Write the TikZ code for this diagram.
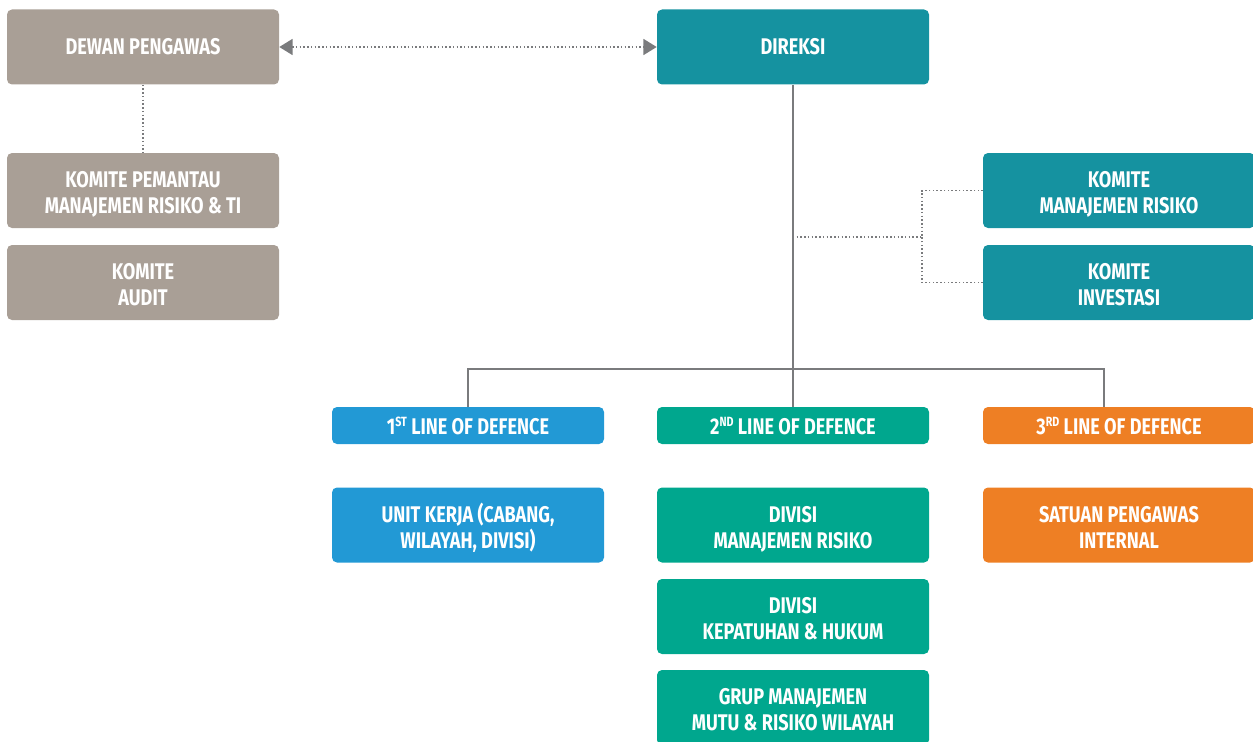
\documentclass[tikz,border=0pt]{standalone}
\usepackage{fontspec}
\setmainfont{Fira Sans}[FakeStretch=0.8]
\usetikzlibrary{arrows.meta}
\definecolor{boardgrey}{HTML}{A99F96}
\definecolor{execteal}{HTML}{1592A0}
\definecolor{lodblue}{HTML}{2299D5}
\definecolor{lodgreen}{HTML}{00A78E}
\definecolor{lodorange}{HTML}{EE7F24}
\definecolor{linegrey}{HTML}{7A7B7D}
\newcommand{\ordsup}[1]{\raisebox{5.5pt}{\fontsize{10pt}{10pt}\selectfont #1}}
\tikzset{
  orgbox/.style={rectangle, rounded corners=3.75pt, minimum width=204pt,
    minimum height=56.25pt, text=white, align=center,
    font=\fontsize{17pt}{19.5pt}\selectfont\bfseries, inner sep=0pt},
  % two-line boxes: fixed text box so every pair of lines sits at the same place
  twobox/.style={orgbox, text height=34.9pt, text depth=0pt},
  lodbox/.style={orgbox, minimum height=27.75pt, text height=13.2pt, text depth=0pt},
  dotline/.style={draw=linegrey, line width=1.1pt, dash pattern=on 1.1pt off 1.7pt},
  orgline/.style={draw=linegrey, line width=1.6pt}
}
\begin{document}
\begin{tikzpicture}[x=0.75pt,y=-0.75pt]
\useasboundingbox (0,0) rectangle (1253,742);
% supervisory board and its committees
\node[orgbox, fill=boardgrey] (dewan) at (143,47) {DEWAN PENGAWAS};
\node[twobox, fill=boardgrey] (kpmr) at (143,190.5) {KOMITE PEMANTAU\\MANAJEMEN RISIKO \& TI};
\node[twobox, fill=boardgrey] (audit) at (143,282.5) {KOMITE\\AUDIT};
% board of directors and its committees
\node[orgbox, fill=execteal] (direksi) at (793,47) {DIREKSI};
\node[twobox, fill=execteal] (kmr) at (1119,190.5) {KOMITE\\MANAJEMEN RISIKO};
\node[twobox, fill=execteal] (kinv) at (1119,282.5) {KOMITE\\INVESTASI};
% three lines of defence
\node[lodbox, fill=lodblue] (l1) at (468,425.5) {1\ordsup{ST} LINE OF DEFENCE};
\node[lodbox, fill=lodgreen] (l2) at (793,425.5) {2\ordsup{ND} LINE OF DEFENCE};
\node[lodbox, fill=lodorange] (l3) at (1119,425.5) {3\ordsup{RD} LINE OF DEFENCE};
\node[twobox, fill=lodblue] (unit) at (468,525) {UNIT KERJA (CABANG,\\WILAYAH, DIVISI)};
\node[twobox, fill=lodgreen] (dmr) at (793,525) {DIVISI\\MANAJEMEN RISIKO};
\node[twobox, fill=lodgreen] (dkh) at (793,616.5) {DIVISI\\KEPATUHAN \& HUKUM};
\node[twobox, fill=lodgreen] (grup) at (793,707.5) {GRUP MANAJEMEN\\MUTU \& RISIKO WILAYAH};
\node[twobox, fill=lodorange] (spi) at (1119,525) {SATUAN PENGAWAS\\INTERNAL};
% connectors
\draw[dotline, {Triangle[length=10pt,width=12pt,fill=linegrey]}-{Triangle[length=10pt,width=12pt,fill=linegrey]}]
  (dewan.east) -- (direksi.west);
\draw[dotline] (dewan.south) -- (kpmr.north);
\coordinate (cjoin) at (793,237);
\coordinate (cbus) at (922,237);
\draw[dotline] (cjoin) -- (cbus);
\draw[dotline] (kmr.west) -| (cbus);
\draw[dotline] (kinv.west) -| (cbus);
\coordinate (hright) at (1104,369);
\draw[orgline] (direksi.south) -- (l2.north);
\draw[orgline] (l1.north) |- (hright) -- (hright |- l3.north);
\end{tikzpicture}
\end{document}
